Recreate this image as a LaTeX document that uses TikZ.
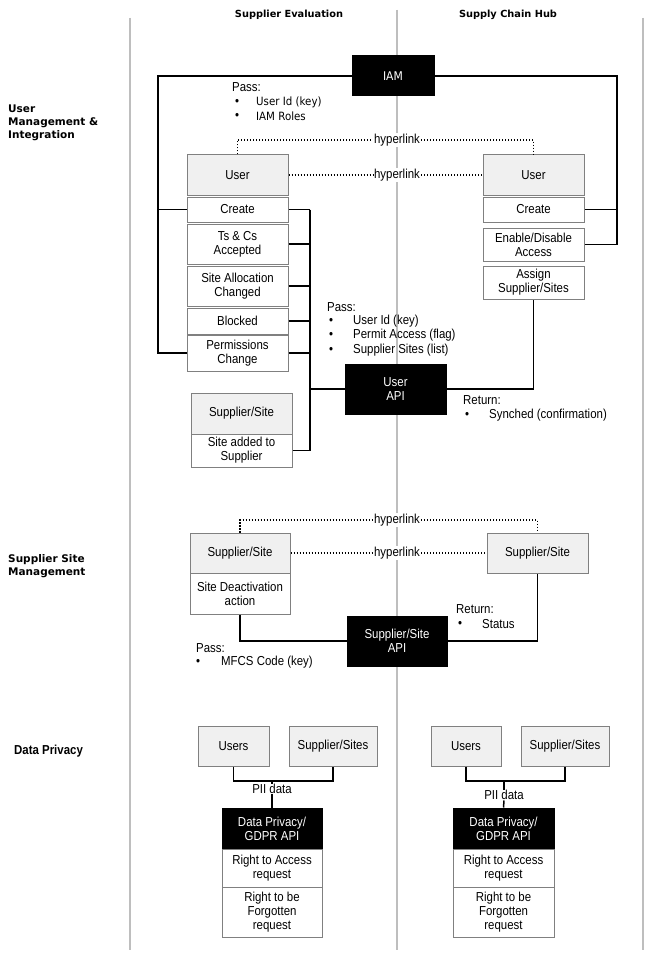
\documentclass[tikz,border=0pt]{standalone}
\usepackage{fontspec}
\setmainfont[FakeStretch=0.88]{Liberation Sans}
\newfontfamily\verd[FakeStretch=0.9]{DejaVu Sans}
\newfontfamily\verdh{DejaVu Sans}
\definecolor{sepgray}{RGB}{190,190,190}
\definecolor{boxgray}{RGB}{128,128,128}
\definecolor{fillgray}{RGB}{240,240,240}
\begin{document}
\begin{tikzpicture}[x=1pt,y=-1pt,
  box/.style={draw=boxgray, line width=1pt, fill=white, inner sep=0pt, align=center, font=\fontsize{13}{14}\selectfont},
  hdr/.style={box, fill=fillgray},
  blk/.style={box, draw=black, fill=black, text=white},
  conn/.style={draw=black, line width=1.5pt},
  hyper/.style={draw=black, line width=1.3pt, dash pattern=on 1.4pt off 1.6pt},
  hlabel/.style={fill=white, inner sep=1pt, font=\fontsize{13}{14}\selectfont},
  txt/.style={anchor=west, inner sep=0pt, font=\fontsize{13}{14}\selectfont},
  vtxt/.style={anchor=west, inner sep=0pt, font=\verd\fontsize{11.4}{13}\selectfont},
  bul/.style={inner sep=0pt, font=\fontsize{13}{14}\selectfont},
  sep/.style={draw=sepgray, line width=1.2pt},
  colhead/.style={inner sep=0pt, font=\verdh\bfseries\fontsize{9.8}{12}\selectfont},
  rowhead/.style={anchor=west, align=left, inner sep=0pt, font=\verdh\bfseries\fontsize{10.5}{13}\selectfont}
]
\useasboundingbox[fill=white] (0,0) rectangle (651,960);

% separators
\draw[sep] (130,18) -- (130,950);
\draw[sep] (397,10) -- (397,950);
\draw[sep] (643,18) -- (643,950);

% headers
\node[colhead] (hSE) at (289,15) {Supplier Evaluation};
\node[colhead] (hSCH) at (508,15) {Supply Chain Hub};
\node[rowhead] (rUM) at (8,123) {User\\Management \&\\Integration};
\node[rowhead] (rSSM) at (8,566.5) {Supplier Site\\Management};
\node[anchor=west, inner sep=0pt, font=\bfseries\fontsize{13}{14}\selectfont] (rDPL) at (14,751) {Data Privacy};

% ---------- Section 1 ----------
\node[blk, minimum width=82pt, minimum height=40pt, font=\verd\fontsize{12}{13}\selectfont] (IAM) at (393,76) {IAM};

\node[hdr, minimum width=101pt, minimum height=40pt] (lUser) at (237.5,175) {User};
\node[box, minimum width=101pt, minimum height=25pt] (lCreate) at (237.5,209.5) {Create};
\node[box, minimum width=101pt, minimum height=40pt] (lTs) at (237.5,244) {Ts \& Cs\\Accepted};
\node[box, minimum width=101pt, minimum height=40pt] (lSite) at (237.5,286) {Site Allocation\\Changed};
\node[box, minimum width=101pt, minimum height=26pt] (lBlocked) at (237.5,321) {Blocked};
\node[box, minimum width=101pt, minimum height=36pt] (lPerm) at (237.5,353) {Permissions\\Change};

\node[hdr, minimum width=101pt, minimum height=40pt] (rUser) at (533.5,175) {User};
\node[box, minimum width=101pt, minimum height=25pt] (rCreate) at (533.5,209.5) {Create};
\node[box, minimum width=101pt, minimum height=33pt] (rEnable) at (533.5,244.5) {Enable/Disable\\Access};
\node[box, minimum width=101pt, minimum height=33pt] (rAssign) at (533.5,282.5) {Assign\\Supplier/Sites};

\node[blk, minimum width=101pt, minimum height=50pt] (uAPI) at (395.5,389) {User\\API};

\node[hdr, minimum width=101pt, minimum height=41pt] (lSup) at (241.5,413.5) {Supplier/Site};
\node[box, minimum width=101pt, minimum height=33pt] (lAdded) at (241.5,450.5) {Site added to\\Supplier};

% hyperlinks
\node[hlabel] (hl1) at (397,140) {hyperlink};
\node[hlabel] (hl2) at (397,175) {hyperlink};
\draw[hyper] (lUser.north) |- (hl1.west);
\draw[hyper] (hl1.east) -| (rUser.north);
\draw[hyper] (lUser.east) -- (hl2.west);
\draw[hyper] (hl2.east) -- (rUser.west);

% IAM outer lines
\coordinate (oL) at (158,0);
\coordinate (oR) at (617,0);
\draw[conn] (IAM.west) -| (oL |- lPerm.west) -- (lPerm.west);
\draw[conn] (oL |- lCreate.west) -- (lCreate.west);
\draw[conn] (IAM.east) -| (oR |- rEnable.east) -- (rEnable.east);
\draw[conn] (oR |- rCreate.east) -- (rCreate.east);

% bus to User API
\coordinate (bus) at (310,0);
\draw[conn] (bus |- lCreate.east) -- (bus |- lAdded.east);
\draw[conn] (lCreate.east) -- (bus |- lCreate.east);
\draw[conn] (lTs.east) -- (bus |- lTs.east);
\draw[conn] (lSite.east) -- (bus |- lSite.east);
\draw[conn] (lBlocked.east) -- (bus |- lBlocked.east);
\draw[conn] (lPerm.east) -- (bus |- lPerm.east);
\draw[conn] (lAdded.east) -- (bus |- lAdded.east);
\draw[conn] (bus |- uAPI.west) -- (uAPI.west);
\draw[conn] (uAPI.east) -| (rAssign.south);

% text blocks
\node[txt] (p1) at (232,87) {Pass:};
\node[bul] (p1b1) at (237,102) {•};
\node[vtxt] (p1t1) at (256,102) {User Id (key)};
\node[bul] (p1b2) at (237,116) {•};
\node[vtxt] (p1t2) at (256,116) {IAM Roles};

\node[txt] (p2) at (327,307) {Pass:};
\node[bul] (p2b1) at (331,321) {•};
\node[txt] (p2t1) at (353,321) {User Id (key)};
\node[bul] (p2b2) at (331,335.5) {•};
\node[txt] (p2t2) at (353,335.5) {Permit Access (flag)};
\node[bul] (p2b3) at (331,350) {•};
\node[txt] (p2t3) at (353,350) {Supplier Sites (list)};

\node[txt] (r1) at (463,400) {Return:};
\node[bul] (r1b1) at (467,415) {•};
\node[txt] (r1t1) at (489,415) {Synched (confirmation)};

% ---------- Section 2 ----------
\node[hdr, minimum width=100pt, minimum height=40pt] (lSS) at (240,553) {Supplier/Site};
\node[box, minimum width=100pt, minimum height=41pt] (lDeact) at (240,593.5) {Site Deactivation\\action};
\node[hdr, minimum width=101pt, minimum height=40pt] (rSS) at (537.5,553) {Supplier/Site};
\node[blk, minimum width=100pt, minimum height=50pt] (sAPI) at (397,641) {Supplier/Site\\API};

\node[hlabel] (hl3) at (397,520) {hyperlink};
\node[hlabel] (hl4) at (397,553) {hyperlink};
\draw[hyper] (lSS.north) |- (hl3.west);
\draw[hyper] (hl3.east) -| (rSS.north);
\draw[hyper] (lSS.east) -- (hl4.west);
\draw[hyper] (hl4.east) -- (rSS.west);

\draw[conn] (lDeact.south) |- (sAPI.west);
\draw[conn] (sAPI.east) -| (rSS.south);

\node[txt] (r2) at (456,609) {Return:};
\node[bul] (r2b1) at (460,624) {•};
\node[txt] (r2t1) at (482,624) {Status};

\node[txt] (p3) at (196,648) {Pass:};
\node[bul] (p3b1) at (198,662) {•};
\node[txt] (p3t1) at (221,662) {MFCS Code (key)};

% ---------- Section 3 ----------
\node[hdr, minimum width=71pt, minimum height=40pt] (lUsers) at (233.5,746) {Users};
\node[hdr, minimum width=88pt, minimum height=40pt] (lSSs) at (333,746) {Supplier/Sites};
\node[blk, minimum width=100pt, minimum height=41pt] (lDP) at (272,828.5) {Data Privacy/\\GDPR API};
\node[box, minimum width=100pt, minimum height=38pt] (lRA) at (272,868) {Right to Access\\request};
\node[box, minimum width=100pt, minimum height=50pt] (lRF) at (272,912) {Right to be\\Forgotten\\request};

\node[hdr, minimum width=70pt, minimum height=40pt] (rUsers) at (466,746) {Users};
\node[hdr, minimum width=88pt, minimum height=40pt] (rSSs) at (565,746) {Supplier/Sites};
\node[blk, minimum width=101pt, minimum height=41pt] (rDP) at (503.5,828.5) {Data Privacy/\\GDPR API};
\node[box, minimum width=101pt, minimum height=38pt] (rRA) at (503.5,868) {Right to Access\\request};
\node[box, minimum width=101pt, minimum height=50pt] (rRF) at (503.5,912) {Right to be\\Forgotten\\request};

\coordinate (j1) at (272,781);
\coordinate (j2) at (504,781);
\node[hlabel, inner sep=0.5pt] (pii1) at (272,789) {PII data};
\node[hlabel, inner sep=0.5pt] (pii2) at (504,795) {PII data};
\draw[conn] (lUsers.south) |- (j1) -| (lSSs.south);
\draw[conn] (j1) -- (pii1.north);
\draw[conn] (pii1.south) -- (lDP.north);
\draw[conn] (rUsers.south) |- (j2) -| (rSSs.south);
\draw[conn] (j2) -- (pii2.north);
\draw[conn] (pii2.south) -- (rDP.north);

\end{tikzpicture}
\end{document}
